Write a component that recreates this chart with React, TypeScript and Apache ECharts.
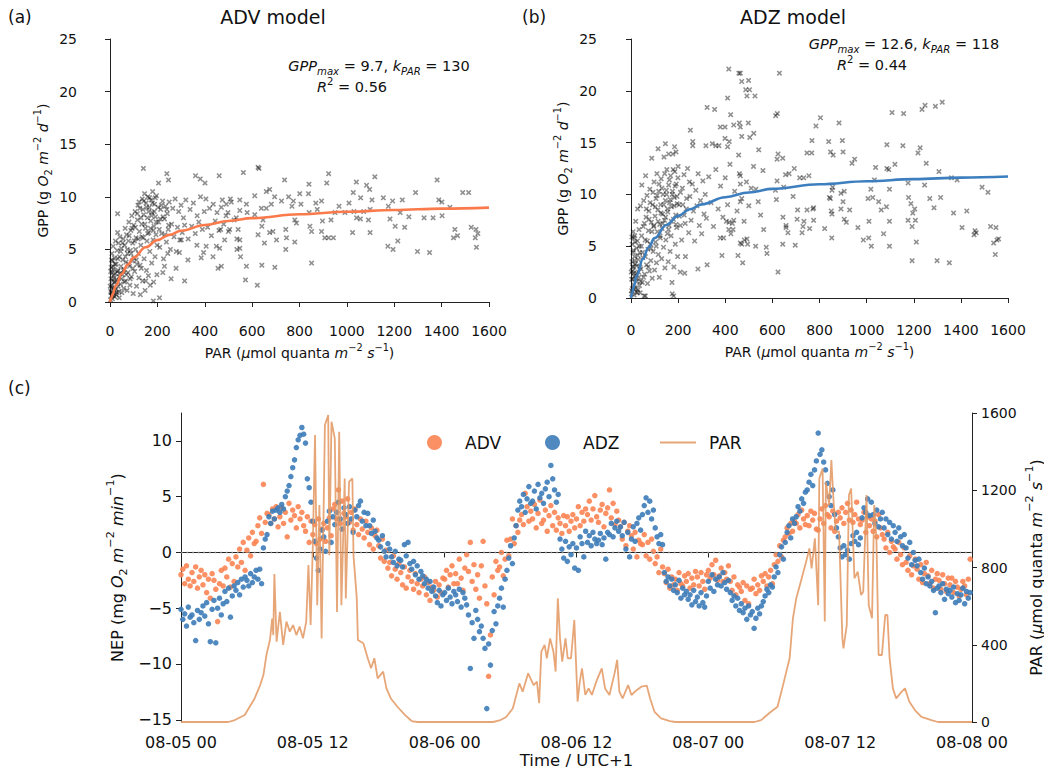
import React, { useEffect, useRef } from 'react';
import * as echarts from 'echarts';

const FONT = 'DejaVu Sans';
const INK = '#111111';
const SPINE = '#222222';

// ---------- Panel (a): ADV model, observed [PAR, GPP] ----------
const advObsLow: number[][] = [
  [2,0.2],[3,1.0],[4,2.2],[5,3.3],[6,0.6],[7,1.6],[8,4.6],[9,2.8],[10,0.3],[11,3.9],[12,1.3],[13,5.3],[14,2.5],[15,0.8],[16,3.1],[18,1.9],[19,4.2],[20,0.5],[22,2.7],[23,5.8],[25,1.2],[26,3.6],[28,0.9],[29,2.1],[30,4.9],[32,6.6],[32,8.4],[34,1.5],[35,3.0],[36,5.6],[38,2.4],[39,0.4],[40,4.3],[42,6.2],
  [44,1.7],[46,3.4],[48,5.1],[50,0.9],[52,2.6],[54,4.0],[56,6.0],[58,1.3],[60,3.1],[62,5.4],[64,7.0],[66,2.0],[68,3.8],[70,6.4],[72,1.1],[74,4.6],[76,2.8],[78,5.8],[80,7.6],[82,3.4],[84,1.6],[86,4.9],[88,6.8],[90,2.4],[92,8.2],[94,3.9],[96,5.6],[98,0.8],[100,7.3],[100,4.2],
  [104,2.9],[106,8.6],[108,5.0],[110,6.1],[112,1.5],[114,3.6],[116,7.8],[118,9.2],[120,4.6],[122,2.3],[124,6.7],[126,8.9],[128,0.7],[130,5.4],[132,3.2],[134,7.4],[136,9.8],[138,2.0],[140,6.1],[142,8.3],[144,4.1],[146,10.3],[148,1.1],[150,7.0],[152,9.4],[154,3.0],[156,5.8],[158,8.0],[160,10.0],[162,2.5],[164,6.6],[166,9.0],[168,4.8],[170,1.6],[172,7.7],[174,9.7],[176,3.7],[178,8.5],[180,10.5],[182,5.9],[184,1.9],[186,7.2],[188,9.3],[190,4.3],[192,8.1],[194,6.4],[196,10.1],[198,2.6]
];
const advObsDense: number[][] = [
  [1,1.5],[3,2.9],[5,0.9],[6,4.0],[8,1.4],[10,2.0],[12,3.4],[14,0.6],[17,2.3],[19,1.1],[21,3.6],[24,1.9],[27,0.7],[31,2.9],[33,4.1],[37,1.0],[41,2.7],[45,4.8],[49,2.2],[53,5.6],[57,3.0],[61,1.9],[65,4.3],[69,2.6],[73,5.0],[77,3.6],[81,6.3],[85,2.2],[89,4.6],[93,7.0],[97,3.2],[103,5.8],[107,7.1],[111,4.0],[115,8.4],[119,6.0],[123,9.5],[127,3.5],[131,8.0],[135,6.2],[139,8.8],[143,9.6],[147,7.4],[151,2.0],[155,9.0],[159,6.5],[163,8.6],[167,9.9],[171,7.0],[175,8.2],[179,9.4],[183,6.8],[187,8.6],[191,9.9],[195,7.6],[199,5.4],[203,9.0],[208,6.9],[212,7.9],[217,9.2],[224,8.1],[232,6.4],[240,8.8],[248,7.3]
];
const advObsMid: number[][] = [
  [205,7.6],[210,5.2],[214,8.8],[218,6.5],[222,9.6],[226,4.1],[230,7.9],[234,9.1],[238,5.7],[242,8.4],[246,6.9],[250,9.5],[255,5.0],[260,7.4],[265,8.9],[270,6.2],[275,9.8],[280,4.8],[285,7.1],[290,8.6],[295,5.9],[300,9.2],[305,6.6],[310,8.0],[315,7.3],[320,9.7],
  [330,6.0],[338,8.8],[345,7.2],[352,9.4],[360,6.5],[368,8.2],[375,7.6],[382,10.0],[390,6.9],[398,8.6],[405,9.8],[412,7.1],[420,8.9],[428,6.3],[436,9.3],[444,7.7],[452,8.5],[460,6.8],[470,9.0],[480,7.4],[490,8.2],[500,6.7],[512,9.5],[524,7.8],[536,6.0],[548,8.7]
];
const advObsSparse: number[][] = [
  [141,12.7],[240,12.2],[247,11.6],[205,11.3],[361,12.0],[381,11.7],[401,11.3],[461,12.0],[563,12.3],[625,12.8],[629,12.7],[737,11.6],[840,11.2],[923,12.2],[915,11.3],[1040,11.4],[1083,11.1],[1096,10.7],[1118,11.9],[1381,11.6],[1290,10.4],[1489,10.4],[1514,10.4],[1601,8.0],[1456,6.9],[1450,6.1],[1467,6.3],[1525,7.1],[1545,6.9],[1542,6.1],[1553,6.5],[1547,5.2],[1298,4.8],[1349,4.7],[1173,5.3],[1195,5.0],[1215,5.8],[1204,7.2],[1244,7.1],[1262,8.1],[1225,8.5],[1175,9.1],[1193,9.6],[1234,9.7],[1182,7.9],[1388,9.7],[1401,9.5],[1326,8.0],[1364,8.0],[1402,8.2],[1435,9.0],[1154,9.9],[1106,9.7],[1058,9.9],[1027,10.4],[1009,9.4],[967,9.1],[992,8.5],[1030,8.6],[1041,8.0],[1057,7.9],[1091,7.8],[1071,8.6],[1098,8.8],[1024,6.6],[1098,6.6],[950,8.5],[933,7.8],[897,7.7],[893,6.7],[907,6.1],[923,6.1],[943,6.1],[875,8.8],[841,8.5],[844,7.2],[851,6.7],[851,3.7],[806,9.3],[801,10.3],[838,10.3],[869,9.4],[893,9.6],[774,9.6],[754,10.0],[768,9.1],[724,9.6],[695,10.0],[681,9.3],[660,8.9],[660,10.5],[674,10.7],[639,8.9],[646,7.8],[641,7.2],[674,6.6],[688,6.7],[652,5.6],[703,5.9],[745,6.1],[742,5.0],[742,6.9],[780,7.8],[787,7.5],[780,5.7],[696,3.3],[641,3.5],[622,1.6],[576,3.4],[572,2.1],[625,6.4],[611,8.3],[579,8.5],[576,9.3],[611,10.1],[548,5.1],[551,4.3],[536,5.0],[548,5.9],[541,6.9],[533,8.0],[548,9.7],[508,9.8],[491,9.3],[474,9.7],[498,8.5],[505,6.9],[484,5.9],[467,6.9],[463,5.1],[449,5.3],[470,3.4],[456,3.2],[435,4.3],[406,5.3],[395,4.7],[385,4.2],[367,5.4],[329,4.0],[315,2.0],[301,5.9],[293,4.7],[279,3.2],[258,2.2],[244,4.6],[230,3.4],[223,2.8],[209,0.4],[183,0.1]
];

// ---------- Panel (b): ADZ model, observed [PAR, GPP] ----------
const adzObsLow: number[][] = [
  [2,0.4],[3,1.8],[4,3.5],[5,5.2],[6,0.9],[7,2.6],[8,4.4],[9,6.4],[10,1.3],[11,3.0],[12,5.8],[13,0.3],[14,2.1],[15,4.0],[16,6.0],[18,1.0],[19,3.3],[20,7.4],[22,0.6],[23,2.4],[24,4.8],[26,1.6],[27,5.5],[28,8.6],[30,0.8],[31,3.7],[33,2.0],[34,6.6],[36,1.2],[37,4.4],[39,0.5],[40,8.9],
  [42,2.8],[44,5.0],[46,10.9],[48,1.5],[50,3.9],[52,6.9],[54,9.4],[56,0.2],[58,2.3],[60,5.6],[62,11.8],[64,7.8],[66,3.2],[68,9.9],[70,1.4],[72,4.7],[74,6.5],[76,8.4],[78,2.6],[80,10.5],[82,5.2],[84,3.6],[86,7.3],[88,13.5],[90,1.9],[92,9.0],[94,4.5],[96,6.9],[98,11.2],[100,2.7],
  [102,7.9],[104,5.4],[106,9.6],[108,3.4],[110,12.0],[112,6.4],[114,8.5],[116,4.2],[118,10.3],[120,2.0],[122,7.1],[124,5.8],[126,9.0],[128,11.5],[130,3.8],[132,6.7],[134,8.1],[136,10.0],[138,4.9],[140,13.6],[142,7.5],[144,2.9],[146,9.4],[148,5.6],[150,10.4],[152,12.4],[154,6.2],[156,8.3],[158,3.5],[160,10.9],[162,7.0],[164,9.2],[166,4.5],[168,11.8],[170,6.0],[172,8.8],[174,1.5],[176,10.3],[178,13.9],[180,7.6],[182,3.0],[184,9.7],[186,12.2],[188,5.2],[190,8.0],[192,11.0],[194,6.8],[196,9.1],[198,4.0],[200,12.7]
];
const adzObsDense: number[][] = [
  [1,2.5],[3,0.7],[4,5.9],[6,3.0],[8,1.8],[10,4.6],[12,2.4],[14,0.9],[16,3.6],[18,5.4],[21,1.9],[24,3.1],[27,0.5],[29,4.1],[32,2.5],[35,5.0],[38,3.0],[41,1.6],[45,6.0],[49,4.4],[53,2.0],[57,7.2],[61,4.0],[65,8.6],[69,5.5],[73,3.0],[77,7.6],[81,9.2],[85,4.8],[89,6.4],[93,10.2],[97,7.0],[103,8.8],[107,5.0],[111,9.9],[115,7.4],[119,11.0],[123,6.0],[127,8.2],[131,10.6],[135,7.2],[139,9.0],[143,12.0],[147,7.8],[151,10.0],[155,8.6],[159,6.6],[163,11.4],[167,9.5],[171,7.4],[175,10.0],[179,12.4],[183,8.9],[187,10.8],[191,7.1],[195,9.8],[199,11.6],[204,9.0],[210,7.0],[218,10.6],[226,8.0],[236,9.6],[248,11.2]
];
const adzObsMid: number[][] = [
  [205,7.9],[210,10.2],[215,5.6],[220,9.0],[225,11.9],[230,7.2],[235,8.6],[240,12.5],[245,6.3],[250,9.8],[255,7.5],[260,11.0],[265,8.4],[270,5.5],[275,10.4],[280,8.9],[285,12.0],[290,7.0],[295,9.4],[300,6.2],[305,11.3],[310,8.1],[315,10.0],[320,7.7],
  [330,11.7],[340,9.2],[350,6.9],[360,12.4],[370,8.6],[380,10.8],[390,7.8],[400,11.6],[410,9.0],[420,12.9],[430,7.2],[440,10.3],[450,8.4],[460,12.0],[470,9.6],[480,7.4],[490,11.2],[500,8.9],[510,10.6],[520,12.7],[530,10.5],[540,9.3],[550,8.0],[560,12.3]
];
const adzObsSparse: number[][] = [
  [415,22.1],[458,21.7],[464,21.7],[630,21.7],[470,20.9],[499,21.0],[503,20.1],[487,20.1],[492,19.5],[526,19.5],[410,19.3],[323,18.4],[355,18.2],[423,17.7],[614,17.6],[621,17.8],[804,17.4],[785,16.6],[883,16.9],[1108,17.9],[1157,17.8],[1235,18.2],[1248,18.6],[1292,18.5],[1321,18.9],[252,16.2],[379,16.5],[399,16.5],[436,16.7],[460,16.9],[464,16.5],[498,16.9],[521,15.9],[470,15.6],[504,15.5],[399,15.4],[410,14.6],[146,14.9],[115,14.4],[185,14.6],[191,14.1],[160,13.9],[262,15.1],[262,14.7],[318,14.7],[345,14.9],[360,14.7],[373,14.7],[417,15.1],[457,13.8],[542,14.3],[624,13.9],[620,13.4],[644,13.5],[767,14.0],[747,14.0],[768,15.2],[839,15.1],[847,14.1],[858,13.8],[897,15.2],[900,14.1],[949,13.4],[938,13.0],[1086,14.8],[1154,14.7],[1227,14.5],[1218,14.0],[1253,13.0],[1307,12.2],[1120,12.9],[1086,12.5],[1094,12.4],[1038,12.6],[1033,11.4],[1360,11.6],[1384,11.4],[1490,10.7],[1515,10.2],[1604,7.2],[1425,8.4],[1369,8.2],[1405,6.8],[1456,6.1],[1460,6.5],[1465,6.3],[1526,6.9],[1549,6.8],[1539,5.3],[1553,5.6],[1560,5.7],[1546,4.2],[1299,3.6],[1351,3.4],[1193,3.6],[1211,5.4],[1193,6.9],[1207,7.5],[1176,7.5],[1196,8.2],[1188,9.1],[1178,9.7],[1176,11.1],[1246,10.9],[1268,9.6],[1286,8.7],[1314,9.7],[1204,8.6],[1097,10.5],[1097,7.4],[1097,5.0],[1010,7.4],[1026,9.7],[1006,9.6],[1051,9.3],[1062,8.5],[1020,5.0],[1009,5.8],[986,5.6],[1072,6.2],[1084,8.8],[1018,10.5],[963,6.8],[914,7.3],[905,7.6],[891,8.6],[928,8.5],[900,9.3],[891,10.1],[905,10.3],[856,10.7],[853,10.4],[846,9.6],[842,9.7],[850,8.4],[853,8.1],[852,5.8],[822,6.7],[775,7.5],[772,8.6],[775,8.7],[734,7.4],[705,7.6],[730,6.9],[726,6.3],[747,8.5],[758,6.7],[707,8.5],[688,9.8],[693,12.5],[671,12.0],[656,11.9],[716,11.6],[733,11.6],[755,11.8],[648,10.7],[620,11.3],[613,10.4],[617,9.5],[645,7.8],[658,6.8],[666,6.3],[658,7.0],[644,5.2],[697,5.1],[624,2.5],[574,4.9],[577,4.3],[563,6.6],[529,5.0],[492,5.7],[495,5.2],[481,5.6],[454,4.1],[474,3.4],[464,5.3],[470,5.2],[464,9.3],[464,11.0],[464,11.8],[386,4.1],[379,5.8],[393,5.8],[415,6.6],[424,6.2],[433,6.6],[436,7.5],[416,7.3],[405,7.4],[323,3.2],[284,2.8],[231,4.0],[228,2.4],[209,2.5],[181,0.2],[175,0.4],[61,0.2]
];

// ---------- Fitted light-response curves ----------
const fitPar = [0, 5, 10, 25, 50, 75, 100, 150, 200, 250, 300, 400, 500, 600, 800, 1000, 1200, 1400, 1600];
const advFitGpp = [0, 0.36, 0.69, 1.57, 2.69, 3.55, 4.22, 5.20, 5.88, 6.38, 6.77, 7.32, 7.70, 7.97, 8.34, 8.58, 8.75, 8.88, 8.97];
const adzFitGpp = [0, 0.51, 0.98, 2.20, 3.75, 4.90, 5.78, 7.05, 7.93, 8.56, 9.04, 9.73, 10.19, 10.53, 10.98, 11.27, 11.47, 11.62, 11.73];

// ---------- Panel (c): NEP time series, 10-minute steps from 08-05 00:00 ----------
const stepsPerHour = 6;
const advNep = [
  -2.0,-1.5,-2.8,-1.2,-2.4,-3.0, -1.8,-2.6,-1.3,-3.2,-2.2,-1.6, -2.9,-2.0,-3.6,-2.4,-4.1,-1.9, -2.5,-3.3,-6.2,-2.8,-1.6,-3.0,
  -1.4,-2.2,-0.6,-3.1,-1.0,-2.6, -0.4,-1.3,0.3,-0.9,0.9,-1.6, 0.2,1.3,-0.3,1.8,0.8,1.0, 2.4,3.1,1.7,6.1,2.7,3.5,
  3.4,2.6,3.9,3.0,4.1,2.3, 3.2,4.0,2.6,3.6,1.4,4.4, 2.9,3.8,3.3,2.2,4.1,3.0, 3.6,2.4,1.9,3.2,0.9,2.8,
  1.6,2.5,0.8,3.0,1.2,2.1, 2.6,1.0,2.2,3.1,1.5,3.9, 4.3,3.0,5.6,2.6,4.6,3.5, 3.2,4.8,2.7,3.6,2.0,3.9,
  2.5,1.6,3.0,2.1,1.3,2.8, 1.8,0.7,2.2,0.3,1.5,2.0, 0.6,-0.5,1.2,-0.8,0.2,-1.4, -0.9,-2.1,-0.3,-1.5,-2.4,-1.0,
  -1.8,-2.9,-1.3,-3.2,-2.2,-1.6, -2.6,-3.3,-1.9,-2.8,-3.6,-2.4, -3.0,-2.2,-3.8,-2.7,-4.3,-3.1, -3.4,-2.6,-4.0,-2.9,-3.6,-2.3,
  -2.4,-1.6,-3.1,-2.0,-1.2,-2.8, -1.9,-2.8,-0.6,-2.3,-3.4,-1.4, -0.2,-1.7,0.9,-2.6,-1.1,-3.3, -2.0,-4.1,-1.2,1.0,-3.0,-4.6,
  -11.1,-7.4,-2.2,-3.8,-0.8,-1.6, -1.3,0.0,-2.1,-0.6,1.1,-0.3, 1.2,3.0,0.8,2.4,1.8,2.9, 3.4,2.5,5.3,4.1,2.8,3.7,
  3.0,4.3,2.2,3.5,4.7,2.6, 2.9,3.8,1.9,3.3,4.2,2.4, 3.6,2.0,3.1,2.6,1.7,3.3, 2.4,3.2,1.9,2.8,3.4,2.2,
  3.0,4.1,2.4,3.6,2.8,3.9, 3.4,4.6,2.9,3.9,5.1,3.2, 2.7,3.8,4.3,2.3,3.5,4.0, 5.6,3.1,4.4,2.5,3.7,2.9,
  2.3,1.2,2.7,0.6,1.9,2.4, 1.5,0.3,1.8,-0.4,1.1,0.8, 0.7,1.6,-0.3,0.9,-0.6,1.2, 0.1,-1.0,-0.4,-1.8,0.3,-1.3,
  -1.9,-2.7,-1.5,-3.2,-2.2,-2.9, -2.4,-3.4,-1.8,-2.8,-3.0,-2.1, -2.6,-1.9,-3.2,-2.3,-2.9,-1.7, -2.2,-3.0,-1.8,-2.6,-3.3,-2.0,
  -1.6,-2.3,-1.1,-2.0,-0.7,-2.5, -2.1,-1.4,-2.6,-1.8,-2.4,-1.2, -2.6,-3.4,-2.2,-3.8,-2.9,-3.1, -3.5,-2.7,-4.3,-3.0,-4.6,-3.3,
  -3.2,-2.4,-3.7,-2.9,-3.4,-2.1, -2.6,-1.9,-3.0,-2.2,-1.6,-2.8, -1.1,-0.2,-0.8,0.6,-0.4,1.1, 1.4,2.2,1.7,2.6,1.9,2.8,
  2.6,3.4,2.2,3.8,3.0,2.5, 3.3,2.4,3.7,2.9,3.5,2.1, 2.0,3.0,3.9,2.6,4.2,3.4, 3.2,2.2,3.7,1.9,2.8,3.6,
  3.1,4.0,2.6,3.6,4.4,2.9, 3.8,2.7,3.4,4.5,3.0,2.5, 2.9,3.6,1.8,3.2,2.4,3.0, 1.9,2.8,1.4,3.4,2.2,1.6,
  1.2,0.4,1.8,0.0,1.0,0.5, 0.3,-0.6,0.9,-0.2,-1.1,0.4, -0.9,-1.6,-0.3,-2.0,-1.2,-0.6, -1.5,-2.4,-1.1,-2.7,-1.9,-0.9,
  -2.1,-2.8,-1.6,-3.2,-2.4,-1.9, -2.5,-3.3,-2.0,-2.8,-3.5,-2.3, -2.9,-2.3,-3.6,-2.6,-3.1,-3.9, -3.3,-2.6,-3.0,-3.8,-2.4,-0.6
];
const adzNep = [
  -5.1,-6.0,-5.5,-6.6,-4.9,-5.8, -5.6,-6.3,-7.9,-5.2,-6.0,-5.4, -4.8,-5.7,-4.5,-6.4,-8.0,-5.1, -4.3,-8.1,-5.0,-4.1,-5.6,-4.6,
  -3.5,-4.4,-3.2,-5.8,-3.9,-3.0, -3.4,-2.7,-3.8,-2.4,-3.1,-2.2, -2.5,-3.0,-1.9,-2.7,-2.2,-1.6, -2.4,-1.5,-2.8,0.4,1.2,1.6,
  3.2,2.6,3.7,3.0,3.8,4.0, 3.6,4.3,3.9,5.0,5.5,6.0, 6.8,7.6,8.3,9.4,10.1,10.5, 11.2,10.6,9.8,6.6,5.8,4.5,
  2.8,1.0,-0.5,-1.6,0.3,2.0, 1.4,0.1,2.8,3.7,0.9,3.2, 2.5,3.6,4.5,3.0,2.1,4.0, 3.4,2.6,4.1,3.0,1.8,3.8,
  3.2,4.2,4.6,2.8,3.6,2.4, 3.5,2.4,1.7,2.9,1.9,1.3, 1.1,0.5,1.5,0.1,-0.4,0.8, 0.3,-0.4,-0.9,0.1,-1.2,-0.6,
  -0.7,-1.3,0.7,-0.3,0.9,-1.0, -1.5,-0.8,-2.0,-1.2,-2.4,-1.7, -2.1,-2.8,-2.4,-3.2,-2.6,-3.5, -3.1,-3.9,-4.5,-3.4,-4.8,-3.8,
  -3.6,-4.3,-3.2,-4.0,-4.6,-3.5, -3.8,-4.4,-3.3,-4.9,-3.6,-4.1, -4.7,-5.6,-10.4,-6.3,-7.7,-5.2, -6.0,-7.1,-6.6,-7.7,-8.6,-14.0,
  -8.2,-10.1,-7.0,-5.3,-6.4,-4.8, -4.1,-3.2,-4.9,-2.4,-1.6,-0.5, 0.6,-1.0,1.3,2.4,3.8,4.6, 4.1,5.2,3.6,4.8,5.9,4.4,
  4.6,5.5,3.9,6.1,4.9,5.3, 4.4,5.7,6.3,5.0,7.8,6.6, 5.6,4.5,5.2,1.2,0.3,-0.5, 1.0,-0.8,0.5,-0.2,0.8,-1.4,
  0.4,-1.6,1.4,0.8,-0.4,1.9, 0.9,1.5,0.6,1.8,1.2,0.8, 1.1,1.7,0.7,1.3,-0.6,1.8, 1.6,2.6,1.4,2.2,2.8,1.9,
  2.3,1.5,2.7,0.3,1.8,-0.4, 1.2,2.3,1.0,2.6,3.1,2.0, 3.4,4.2,4.9,3.6,4.6,3.0, 3.8,2.2,1.4,0.8,1.6,0.7,
  -1.8,-2.6,-2.2,-3.0,-2.4,-3.4, -2.9,-3.6,-2.5,-4.1,-3.2,-3.8, -3.5,-4.2,-3.8,-4.7,-3.4,-4.4, -4.0,-4.8,-3.6,-4.5,-4.9,-3.9,
  -2.6,-3.2,-2.0,-3.5,-2.4,-2.9, -2.2,-3.0,-1.8,-2.7,-3.3,-2.5, -3.6,-4.3,-3.9,-4.8,-4.1,-5.2, -4.6,-5.4,-5.0,-6.0,-4.8,-5.6,
  -5.3,-6.8,-5.9,-5.0,-5.5,-4.8, -4.4,-3.9,-3.3,-3.6,-2.9,-3.1, -2.2,-1.3,-1.8,-0.2,0.5,-0.6, 0.9,1.8,2.4,1.3,3.0,2.6,
  3.2,4.1,3.7,4.8,4.4,5.4, 5.6,6.3,7.0,6.0,7.4,8.2, 10.7,8.8,9.2,8.1,7.4,6.2, 5.0,4.2,5.6,3.4,2.2,1.4,
  0.4,-0.4,0.6,-0.2,0.2,-0.6, 0.8,1.5,1.0,1.8,0.7,1.3, 3.1,4.0,3.6,4.8,3.3,4.5, 3.4,2.6,3.8,2.3,3.0,3.6,
  2.2,3.0,1.6,2.7,1.2,2.4, 1.8,1.0,2.2,1.4,0.6,1.6, 0.4,-0.5,0.9,-1.1,0.0,-0.7, -1.2,-0.6,-1.8,-2.4,-1.4,-2.8,
  -2.2,-3.0,-2.6,-3.4,-5.4,-3.2, -3.0,-3.6,-2.8,-4.2,-3.3,-3.7, -3.4,-4.0,-3.1,-4.5,-3.7,-4.3, -3.8,-3.2,-4.6,-3.5,-4.1,-3.6
];

// PAR trace: hours since 08-05 00:00 and PAR values
const parHours = [
  0,4.3,4.9,5.8,6.7,7.2,7.5,7.8,8.1,8.3,8.4,8.5,8.7,9.0,9.3,9.6,9.9,10.2,10.5,10.8,11.1,11.4,11.6,11.8,12.0,12.2,12.4,12.6,12.8,13.1,13.4,13.5,13.7,14.0,14.2,14.4,14.6,14.9,15.0,15.3,15.6,15.7,16.0,16.1,16.6,17.0,17.3,17.6,17.9,18.4,18.7,19.1,19.7,20.4,21.0,21.5,
  28.4,29.0,29.6,30.2,30.8,31.1,31.6,32.1,32.4,32.6,32.8,33.1,33.3,33.6,33.9,34.1,34.3,34.5,34.7,35.0,35.2,35.5,35.8,36.1,36.3,36.5,36.8,37.1,37.4,37.8,38.3,38.6,39.0,39.5,39.7,39.9,40.2,40.7,41.0,41.5,41.9,42.4,42.7,43.1,43.7,44.5,45.0,
  52.2,52.8,53.7,54.3,54.8,55.1,55.4,55.7,56.0,56.5,56.9,57.2,57.4,57.7,58.0,58.1,58.4,58.6,58.7,59.0,59.2,59.4,59.6,59.9,60.2,60.3,60.6,60.8,61.0,61.3,61.6,61.9,62.1,62.4,62.6,62.9,63.1,63.3,63.5,63.8,64.1,64.3,64.5,64.8,65.1,65.6,65.9,66.3,66.8,67.4,68.3,68.9,72
];
const parValues = [
  0,0,10,36,122,190,243,355,425,536,450,766,416,570,399,520,468,502,450,494,433,520,813,502,916,1486,605,1123,433,1538,1590,864,1555,1468,570,1503,605,1261,640,1244,1261,864,640,425,408,330,278,330,226,261,174,122,79,36,5,0,
  0,8,26,70,200,157,252,191,209,97,364,399,330,433,364,261,640,433,313,433,330,330,528,105,209,278,140,174,140,209,278,174,140,261,322,157,122,191,140,166,183,188,122,53,19,5,0,
  0,10,53,79,191,261,330,537,640,744,830,899,795,951,605,1261,1313,520,1244,1123,1356,1140,985,985,433,381,502,1175,1209,744,778,657,674,1175,605,537,1123,951,347,347,554,554,330,174,122,157,174,105,62,26,10,0,0
];

const timeTickLabels = ['08-05 00', '08-05 12', '08-06 00', '08-06 12', '08-07 00', '08-07 12', '08-08 00'];

const ADV_COLOR = '#fb8453';
const ADZ_COLOR = '#3c7cb8';
const PAR_COLOR = '#e39660';

function rich(fs: number) {
  const base = { fontFamily: FONT, color: INK, fontSize: fs, lineHeight: fs * 1.5 };
  return {
    n: { ...base },
    i: { ...base, fontStyle: 'italic' },
    sup: { fontFamily: FONT, color: INK, fontSize: fs * 0.7, lineHeight: fs * 0.85, verticalAlign: 'top' },
    sub: { fontFamily: FONT, color: INK, fontSize: fs * 0.7, lineHeight: fs * 0.85, verticalAlign: 'bottom' },
    isub: { fontFamily: FONT, color: INK, fontSize: fs * 0.7, lineHeight: fs * 0.85, verticalAlign: 'bottom', fontStyle: 'italic' },
  };
}

const X_MARK = 'path://M0,2L2,0L5,3L8,0L10,2L7,5L10,8L8,10L5,7L2,10L0,8L3,5Z';
const plain = (v: number) => (v < 0 ? '−' + Math.abs(v) : String(v));

function axisCommon(fs: number) {
  return {
    axisLine: { show: true, lineStyle: { color: SPINE, width: 1 } },
    axisTick: { show: true, length: 5, inside: false, lineStyle: { color: SPINE, width: 1 } },
    axisLabel: { color: INK, fontSize: fs, fontFamily: FONT, formatter: plain },
    splitLine: { show: false },
    nameMoveOverlap: false,
  };
}

export default function App() {
  const ref = useRef<HTMLDivElement>(null);
  useEffect(() => {
    document.body.style.margin = '0';
    if (!ref.current) return;
    const chart = echarts.init(ref.current, undefined, { renderer: 'svg' });

    const parLabel = '{n|PAR (}{i|μ}{n|mol quanta }{i|m}{sup|−2}{n| }{i|s}{sup|−1}{n|)}';
    const gppLabel = '{n|GPP (g }{i|O}{sub|2}{n| }{i|m}{sup|−2}{n| }{i|d}{sup|−1}{n|)}';
    const nepLabel = '{n|NEP (mg }{i|O}{sub|2}{n| }{i|m}{sup|−2}{n| }{i|min}{sup|−1}{n|)}';

    const advObs = [...advObsLow, ...advObsDense, ...advObsMid, ...advObsSparse];
    const adzObs = [...adzObsLow, ...adzObsDense, ...adzObsMid, ...adzObsSparse];

    const text = (x: number, y: number, t: string, fs: number, align = 'center', r?: any) => ({
      type: 'text', x, y,
      style: { text: t, fontSize: fs, fontFamily: FONT, fill: INK, align, textAlign: align, verticalAlign: 'middle', textVerticalAlign: 'middle', rich: r },
    });

    const legendText = (pad: number) => ({ fontSize: 17, fontFamily: FONT, color: INK, padding: [0, 0, 0, pad] });

    const option: any = {
      animation: false,
      backgroundColor: '#ffffff',
      grid: [
        { left: 110, top: 39, width: 379, height: 263, outerBoundsMode: 'none' },
        { left: 631, top: 39, width: 377, height: 259, outerBoundsMode: 'none' },
        { left: 181, top: 413, width: 791, height: 309, outerBoundsMode: 'none' },
      ],
      xAxis: [
        { ...axisCommon(14), gridIndex: 0, type: 'value', min: 0, max: 1600, interval: 200, offset: 13,
          axisLabel: { ...axisCommon(14).axisLabel, margin: 9 },
          name: parLabel, nameLocation: 'middle', nameGap: 27, nameTextStyle: { rich: rich(14) } },
        { ...axisCommon(14), gridIndex: 1, type: 'value', min: 0, max: 1600, interval: 200, offset: 16,
          axisLabel: { ...axisCommon(14).axisLabel, margin: 9 },
          name: parLabel, nameLocation: 'middle', nameGap: 27, nameTextStyle: { rich: rich(14) } },
        { ...axisCommon(16), gridIndex: 2, type: 'value', min: 0, max: 72, interval: 12,
          axisLabel: { ...axisCommon(16).axisLabel, margin: 12, formatter: (v: number) => timeTickLabels[Math.round(v / 12)] },
          name: 'Time / UTC+1', nameLocation: 'middle', nameGap: 30, nameTextStyle: { fontSize: 16.5, fontFamily: FONT, color: INK } },
      ],
      yAxis: [
        { ...axisCommon(14), gridIndex: 0, type: 'value', min: 0, max: 25, interval: 5, offset: 24,
          axisLabel: { ...axisCommon(14).axisLabel, margin: 9 },
          name: gppLabel, nameLocation: 'middle', nameGap: 33, nameRotate: 90, nameTextStyle: { rich: rich(14) } },
        { ...axisCommon(14), gridIndex: 1, type: 'value', min: 0, max: 25, interval: 5, offset: 25,
          axisLabel: { ...axisCommon(14).axisLabel, margin: 9 },
          name: gppLabel, nameLocation: 'middle', nameGap: 33, nameRotate: 90, nameTextStyle: { rich: rich(14) } },
        { ...axisCommon(16), gridIndex: 2, type: 'value', min: -15.2, max: 12.5,
          axisTick: { ...axisCommon(16).axisTick, customValues: [-15, -10, -5, 0, 5, 10] },
          axisLabel: { ...axisCommon(16).axisLabel, margin: 9, customValues: [-15, -10, -5, 0, 5, 10] },
          name: nepLabel, nameLocation: 'middle', nameGap: 52, nameRotate: 90, nameTextStyle: { rich: rich(16) } },
        { ...axisCommon(14), gridIndex: 2, type: 'value', position: 'right', min: 0, max: 1600, interval: 400,
          axisLabel: { ...axisCommon(14).axisLabel, margin: 9 },
          name: parLabel, nameLocation: 'middle', nameGap: 52, nameRotate: 90, nameTextStyle: { rich: rich(16) } },
      ],
      legend: [
        { data: ['ADV'], left: 422, top: 429, icon: 'circle', itemWidth: 15, itemHeight: 15, textStyle: legendText(18) },
        { data: ['ADZ'], left: 540, top: 429, icon: 'circle', itemWidth: 15, itemHeight: 15, textStyle: legendText(18) },
        { data: ['PAR'], left: 655, top: 429, icon: 'path://M0,0L36,0L36,2.2L0,2.2Z', symbolKeepAspect: true,
          itemWidth: 36, itemHeight: 15, itemStyle: { color: PAR_COLOR, opacity: 0.85 }, textStyle: legendText(8) },
      ],
      graphic: [
        text(8, 17, '(a)', 17, 'left'),
        text(273, 17, 'ADV model', 19),
        text(379, 66, '{i|GPP}{isub|max}{n| = 9.7, }{i|k}{isub|PAR}{n| = 130}', 14.5, 'center', rich(14.5)),
        text(352, 87, '{i|R}{sup|2}{n| = 0.56}', 14.5, 'center', rich(14.5)),
        text(522, 17, '(b)', 17, 'left'),
        text(793, 17, 'ADZ model', 19),
        text(904, 44, '{i|GPP}{isub|max}{n| = 12.6, }{i|k}{isub|PAR}{n| = 118}', 14.5, 'center', rich(14.5)),
        text(872, 65, '{i|R}{sup|2}{n| = 0.44}', 14.5, 'center', rich(14.5)),
        text(8, 388, '(c)', 17, 'left'),
      ],
      series: [
        { type: 'scatter', xAxisIndex: 0, yAxisIndex: 0, data: advObs, symbol: X_MARK, symbolSize: 5.5,
          itemStyle: { color: 'rgba(0,0,0,0.55)' }, silent: true },
        { type: 'line', xAxisIndex: 0, yAxisIndex: 0, data: fitPar.map((p, i) => [p, advFitGpp[i]]),
          smooth: 0.4, smoothMonotone: 'x', showSymbol: false, symbol: 'none',
          lineStyle: { color: '#fa7a4b', width: 2.6 }, z: 3, silent: true },
        { type: 'scatter', xAxisIndex: 1, yAxisIndex: 1, data: adzObs, symbol: X_MARK, symbolSize: 5.5,
          itemStyle: { color: 'rgba(0,0,0,0.55)' }, silent: true },
        { type: 'line', xAxisIndex: 1, yAxisIndex: 1, data: fitPar.map((p, i) => [p, adzFitGpp[i]]),
          smooth: 0.4, smoothMonotone: 'x', showSymbol: false, symbol: 'none',
          lineStyle: { color: '#3d7fbe', width: 2.6 }, z: 3, silent: true },
        { type: 'scatter', name: 'ADV', xAxisIndex: 2, yAxisIndex: 2,
          data: advNep.map((v, i) => [i / stepsPerHour, v]), symbolSize: 5.5,
          itemStyle: { color: ADV_COLOR, opacity: 0.9 } },
        { type: 'scatter', name: 'ADZ', xAxisIndex: 2, yAxisIndex: 2,
          data: adzNep.map((v, i) => [i / stepsPerHour, v]), symbolSize: 5.5,
          itemStyle: { color: ADZ_COLOR, opacity: 0.9 } },
        { type: 'line', name: 'zero', xAxisIndex: 2, yAxisIndex: 2, data: [[0, 0], [72, 0]],
          showSymbol: false, symbol: 'none', silent: true, z: 3,
          lineStyle: { color: '#8a8a8a', type: [1.6, 4], width: 1.6, cap: 'butt' } },
        { type: 'line', name: 'PAR', xAxisIndex: 2, yAxisIndex: 3,
          data: parHours.map((h, i) => [h, parValues[i]]), showSymbol: false, symbol: 'none',
          lineStyle: { color: PAR_COLOR, width: 1.8, opacity: 0.85 }, itemStyle: { color: PAR_COLOR }, z: 4 },
      ],
    };
    chart.setOption(option);
    return () => chart.dispose();
  }, []);
  return <div ref={ref} style={{ width: 1044, height: 774 }} />;
}
